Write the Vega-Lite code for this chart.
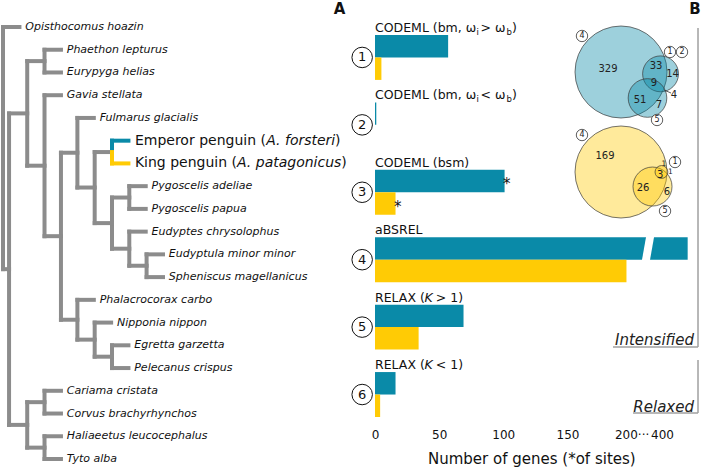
{
  "$schema": "https://vega.github.io/schema/vega-lite/v6.json",
  "width": 701,
  "height": 420,
  "autosize": "none",
  "padding": {"left": 0, "right": 0, "top": 0, "bottom": 47},
  "background": "white",
  "config": {"view": {"stroke": null}, "font": "DejaVu Sans", "text": {"font": "DejaVu Sans", "color": "#111"}},
  "datasets": {
    "tree": [
      {"x1":0,"x2":0,"y1":0,"y2":10.65,"c":"Other"},
      {"x1":0.35,"x2":0.35,"y1":3.8,"y2":17.5,"c":"Other"},
      {"x1":1.4,"x2":1.4,"y1":1.5,"y2":6.1,"c":"Other"},
      {"x1":1.4,"x2":1.4,"y1":16.5,"y2":18.5,"c":"Other"},
      {"x1":2.4,"x2":2.4,"y1":1,"y2":2,"c":"Other"},
      {"x1":2.4,"x2":2.4,"y1":3,"y2":9.2,"c":"Other"},
      {"x1":2.4,"x2":2.4,"y1":16,"y2":17,"c":"Other"},
      {"x1":2.4,"x2":2.4,"y1":18,"y2":19,"c":"Other"},
      {"x1":3.35,"x2":3.35,"y1":5.53,"y2":12.875,"c":"Other"},
      {"x1":4.3,"x2":4.3,"y1":4,"y2":7.06,"c":"Other"},
      {"x1":4.3,"x2":4.3,"y1":12,"y2":13.75,"c":"Other"},
      {"x1":5.3,"x2":5.3,"y1":5.5,"y2":8.625,"c":"Other"},
      {"x1":5.3,"x2":5.3,"y1":13,"y2":14.5,"c":"Other"},
      {"x1":6.3,"x2":6.3,"y1":7.5,"y2":9.75,"c":"Other"},
      {"x1":6.3,"x2":6.3,"y1":14,"y2":15,"c":"Other"},
      {"x1":7.3,"x2":7.3,"y1":7,"y2":8,"c":"Other"},
      {"x1":7.3,"x2":7.3,"y1":9,"y2":10.5,"c":"Other"},
      {"x1":8.3,"x2":8.3,"y1":10,"y2":11,"c":"Other"},
      {"x1":0,"x2":0.95,"y1":0,"y2":0,"c":"Other"},
      {"x1":0,"x2":0.35,"y1":10.65,"y2":10.65,"c":"Other"},
      {"x1":0.35,"x2":1.4,"y1":3.8,"y2":3.8,"c":"Other"},
      {"x1":0.35,"x2":1.4,"y1":17.5,"y2":17.5,"c":"Other"},
      {"x1":1.4,"x2":2.4,"y1":1.5,"y2":1.5,"c":"Other"},
      {"x1":1.4,"x2":2.4,"y1":6.1,"y2":6.1,"c":"Other"},
      {"x1":2.4,"x2":3.35,"y1":1,"y2":1,"c":"Other"},
      {"x1":2.4,"x2":3.35,"y1":2,"y2":2,"c":"Other"},
      {"x1":2.4,"x2":3.35,"y1":3,"y2":3,"c":"Other"},
      {"x1":2.4,"x2":3.35,"y1":9.2,"y2":9.2,"c":"Other"},
      {"x1":3.35,"x2":4.3,"y1":5.53,"y2":5.53,"c":"Other"},
      {"x1":3.35,"x2":4.3,"y1":12.875,"y2":12.875,"c":"Other"},
      {"x1":4.3,"x2":5.25,"y1":4,"y2":4,"c":"Other"},
      {"x1":4.3,"x2":5.3,"y1":7.06,"y2":7.06,"c":"Other"},
      {"x1":5.3,"x2":6.3,"y1":5.5,"y2":5.5,"c":"Other"},
      {"x1":5.3,"x2":6.3,"y1":8.625,"y2":8.625,"c":"Other"},
      {"x1":6.3,"x2":7.3,"y1":7.5,"y2":7.5,"c":"Other"},
      {"x1":6.3,"x2":7.3,"y1":9.75,"y2":9.75,"c":"Other"},
      {"x1":7.3,"x2":8.25,"y1":7,"y2":7,"c":"Other"},
      {"x1":7.3,"x2":8.25,"y1":8,"y2":8,"c":"Other"},
      {"x1":7.3,"x2":8.25,"y1":9,"y2":9,"c":"Other"},
      {"x1":7.3,"x2":8.3,"y1":10.5,"y2":10.5,"c":"Other"},
      {"x1":8.3,"x2":9.25,"y1":10,"y2":10,"c":"Other"},
      {"x1":8.3,"x2":9.25,"y1":11,"y2":11,"c":"Other"},
      {"x1":4.3,"x2":5.25,"y1":12,"y2":12,"c":"Other"},
      {"x1":4.3,"x2":5.3,"y1":13.75,"y2":13.75,"c":"Other"},
      {"x1":5.3,"x2":6.25,"y1":13,"y2":13,"c":"Other"},
      {"x1":5.3,"x2":6.3,"y1":14.5,"y2":14.5,"c":"Other"},
      {"x1":6.3,"x2":7.25,"y1":14,"y2":14,"c":"Other"},
      {"x1":6.3,"x2":7.25,"y1":15,"y2":15,"c":"Other"},
      {"x1":1.4,"x2":2.4,"y1":16.5,"y2":16.5,"c":"Other"},
      {"x1":1.4,"x2":2.4,"y1":18.5,"y2":18.5,"c":"Other"},
      {"x1":2.4,"x2":3.35,"y1":16,"y2":16,"c":"Other"},
      {"x1":2.4,"x2":3.35,"y1":17,"y2":17,"c":"Other"},
      {"x1":2.4,"x2":3.35,"y1":18,"y2":18,"c":"Other"},
      {"x1":2.4,"x2":3.35,"y1":19,"y2":19,"c":"Other"},
      {"x1":6.3,"x2":6.3,"y1":5,"y2":5.5,"c":"Emperor"},
      {"x1":6.3,"x2":7.25,"y1":5,"y2":5,"c":"Emperor"},
      {"x1":6.3,"x2":6.3,"y1":5.5,"y2":6,"c":"King"},
      {"x1":6.3,"x2":7.25,"y1":6,"y2":6,"c":"King"}
    ],
    "leaves": [
      {"name":"Opisthocomus hoazin","y":0,"d":0.95},
      {"name":"Phaethon lepturus","y":1,"d":3.35},
      {"name":"Eurypyga helias","y":2,"d":3.35},
      {"name":"Gavia stellata","y":3,"d":3.35},
      {"name":"Fulmarus glacialis","y":4,"d":5.25},
      {"name":"Pygoscelis adeliae","y":7,"d":8.25},
      {"name":"Pygoscelis papua","y":8,"d":8.25},
      {"name":"Eudyptes chrysolophus","y":9,"d":8.25},
      {"name":"Eudyptula minor minor","y":10,"d":9.25},
      {"name":"Spheniscus magellanicus","y":11,"d":9.25},
      {"name":"Phalacrocorax carbo","y":12,"d":5.25},
      {"name":"Nipponia nippon","y":13,"d":6.25},
      {"name":"Egretta garzetta","y":14,"d":7.25},
      {"name":"Pelecanus crispus","y":15,"d":7.25},
      {"name":"Cariama cristata","y":16,"d":3.35},
      {"name":"Corvus brachyrhynchos","y":17,"d":3.35},
      {"name":"Haliaeetus leucocephalus","y":18,"d":3.35},
      {"name":"Tyto alba","y":19,"d":3.35}
    ],
    "penguins": [
      {"sp":"Emperor","y":5,"d":7.25,"a":"Emperor penguin (","b":"A. forsteri","c":")"},
      {"sp":"King","y":6,"d":7.25,"a":"King penguin (","b":"A. patagonicus","c":")"}
    ],
    "bars": [
      {"test":1,"row":"1e","sp":"Emperor","n":57},
      {"test":1,"row":"1k","sp":"King","n":5},
      {"test":2,"row":"2e","sp":"Emperor","n":1},
      {"test":2,"row":"2k","sp":"King","n":0},
      {"test":3,"row":"3e","sp":"Emperor","n":101,"sites":true},
      {"test":3,"row":"3k","sp":"King","n":16,"sites":true},
      {"test":4,"row":"4e","sp":"Emperor","n":420},
      {"test":4,"row":"4k","sp":"King","n":196},
      {"test":5,"row":"5e","sp":"Emperor","n":69},
      {"test":5,"row":"5k","sp":"King","n":34},
      {"test":6,"row":"6e","sp":"Emperor","n":16},
      {"test":6,"row":"6k","sp":"King","n":4}
    ],
    "breaks": [{"row":"4e","at":308}],
    "titles": [
      {"row":"1t","a":"CODEML (bm, ω","b":"i","c":" > ω","d":"b","e":")"},
      {"row":"2t","a":"CODEML (bm, ω","b":"i","c":" < ω","d":"b","e":")"},
      {"row":"3t","a":"CODEML (bsm)"},
      {"row":"4t","a":"aBSREL"},
      {"row":"5t","a":"RELAX (","k":"K","f":" > 1)"},
      {"row":"6t","a":"RELAX (","k":"K","f":" < 1)"}
    ],
    "tests": [
      {"test":"1","row":"1e"},{"test":"2","row":"2e"},{"test":"3","row":"3e"},
      {"test":"4","row":"4e"},{"test":"5","row":"5e"},{"test":"6","row":"6e"}
    ],
    "venn": [
      {"set":"4","sp":"Emperor","cx":0,"cy":0,"r":1},
      {"set":"1,2","sp":"Emperor","cx":0.86,"cy":0.04,"r":0.39},
      {"set":"5","sp":"Emperor","cx":0.576,"cy":0.565,"r":0.42},
      {"set":"4","sp":"King","cx":0,"cy":2.174,"r":1},
      {"set":"5","sp":"King","cx":0.685,"cy":2.49,"r":0.424},
      {"set":"1","sp":"King","cx":0.88,"cy":2.174,"r":0.14}
    ],
    "vennLabels": [
      {"t":"329","x":-0.283,"y":-0.065,"tiny":false},
      {"t":"33","x":0.761,"y":-0.13,"tiny":false},
      {"t":"14","x":1.12,"y":0.043,"tiny":false},
      {"t":"9","x":0.717,"y":0.239,"tiny":false},
      {"t":"4","x":1.152,"y":0.5,"tiny":false},
      {"t":"51","x":0.413,"y":0.609,"tiny":false},
      {"t":"7","x":0.826,"y":0.717,"tiny":false},
      {"t":"169","x":-0.348,"y":1.826,"tiny":false},
      {"t":"26","x":0.478,"y":2.522,"tiny":false},
      {"t":"6","x":1.0,"y":2.609,"tiny":false},
      {"t":"3","x":0.85,"y":2.24,"tiny":false},
      {"t":"1","x":0.935,"y":2.0,"tiny":true},
      {"t":"1","x":1.075,"y":2.174,"tiny":true}
    ],
    "vennSets": [
      {"t":"4","x":-0.848,"y":-0.783},
      {"t":"1","x":1.065,"y":-0.435},
      {"t":"2","x":1.326,"y":-0.435},
      {"t":"5","x":0.783,"y":1.043},
      {"t":"4","x":-0.848,"y":1.37},
      {"t":"1","x":1.174,"y":1.957},
      {"t":"5","x":0.957,"y":3.022}
    ],
    "leader": [{"x1":0.935,"y1":0.391,"x2":1.087,"y2":0.457}],
    "brackets": [
      {"x1":1.674,"x2":1.674,"y1":-0.957,"y2":5.978},
      {"x1":-0.174,"x2":1.674,"y1":5.978,"y2":5.978},
      {"x1":1.674,"x2":1.674,"y1":6.261,"y2":7.413},
      {"x1":0.261,"x2":1.674,"y1":7.413,"y2":7.413}
    ],
    "bracketText": [
      {"t":"Intensified","x":1.587,"y":5.826},
      {"t":"Relaxed","x":1.587,"y":7.283}
    ],
    "panels": [
      {"t":"A","x":-6.12,"y":-1.38},
      {"t":"B","x":1.61,"y":-1.38}
    ]
  },
  "resolve": {"scale": {"x": "independent", "y": "independent", "color": "independent", "size": "independent"}},
  "layer": [
    {
      "data": {"name": "tree"},
      "mark": {"type": "rule", "strokeWidth": 4, "strokeCap": "square"},
      "encoding": {
        "x": {"field": "x1", "type": "quantitative", "scale": {"type": "linear", "domain": [0, 10], "range": [3, 176], "nice": false, "zero": false}, "axis": null},
        "x2": {"field": "x2"},
        "y": {"field": "y1", "type": "quantitative", "scale": {"type": "linear", "domain": [0, 19], "range": [27, 459], "nice": false, "zero": false}, "axis": null},
        "y2": {"field": "y2"},
        "color": {"field": "c", "type": "nominal", "scale": {"domain": ["Emperor", "King", "Other"], "range": ["#0a8aa8", "#ffcb05", "#8c8c8c"]}, "legend": null}
      }
    },
    {
      "data": {"name": "leaves"},
      "mark": {"type": "text", "align": "left", "baseline": "middle", "dx": 5.8, "fontSize": 11, "fontStyle": "italic", "color": "#111"},
      "encoding": {
        "x": {"field": "d", "type": "quantitative", "scale": {"type": "linear", "domain": [0, 10], "range": [3, 176], "nice": false, "zero": false}, "axis": null},
        "y": {"field": "y", "type": "quantitative", "scale": {"type": "linear", "domain": [0, 19], "range": [27, 459], "nice": false, "zero": false}, "axis": null},
        "text": {"field": "name"}
      }
    },
    {
      "data": {"name": "penguins"},
      "mark": {"type": "text", "align": "left", "baseline": "middle", "dx": 6.5, "fontSize": 14, "color": "#111"},
      "encoding": {
        "x": {"field": "d", "type": "quantitative", "scale": {"type": "linear", "domain": [0, 10], "range": [3, 176], "nice": false, "zero": false}, "axis": null},
        "y": {"field": "y", "type": "quantitative", "scale": {"type": "linear", "domain": [0, 19], "range": [27, 459], "nice": false, "zero": false}, "axis": null},
        "text": {"field": "a"}
      }
    },
    {
      "data": {"name": "penguins"},
      "transform": [{"filter": "datum.sp == 'Emperor'"}],
      "mark": {"type": "text", "align": "left", "baseline": "middle", "dx": 137.8, "fontSize": 14, "fontStyle": "italic", "color": "#111"},
      "encoding": {
        "x": {"field": "d", "type": "quantitative", "scale": {"type": "linear", "domain": [0, 10], "range": [3, 176], "nice": false, "zero": false}, "axis": null},
        "y": {"field": "y", "type": "quantitative", "scale": {"type": "linear", "domain": [0, 19], "range": [27, 459], "nice": false, "zero": false}, "axis": null},
        "text": {"field": "b"}
      }
    },
    {
      "data": {"name": "penguins"},
      "transform": [{"filter": "datum.sp == 'Emperor'"}],
      "mark": {"type": "text", "align": "left", "baseline": "middle", "dx": 206.6, "fontSize": 14, "color": "#111"},
      "encoding": {
        "x": {"field": "d", "type": "quantitative", "scale": {"type": "linear", "domain": [0, 10], "range": [3, 176], "nice": false, "zero": false}, "axis": null},
        "y": {"field": "y", "type": "quantitative", "scale": {"type": "linear", "domain": [0, 19], "range": [27, 459], "nice": false, "zero": false}, "axis": null},
        "text": {"field": "c"}
      }
    },
    {
      "data": {"name": "penguins"},
      "transform": [{"filter": "datum.sp == 'King'"}],
      "mark": {"type": "text", "align": "left", "baseline": "middle", "dx": 108.6, "fontSize": 14, "fontStyle": "italic", "color": "#111"},
      "encoding": {
        "x": {"field": "d", "type": "quantitative", "scale": {"type": "linear", "domain": [0, 10], "range": [3, 176], "nice": false, "zero": false}, "axis": null},
        "y": {"field": "y", "type": "quantitative", "scale": {"type": "linear", "domain": [0, 19], "range": [27, 459], "nice": false, "zero": false}, "axis": null},
        "text": {"field": "b"}
      }
    },
    {
      "data": {"name": "penguins"},
      "transform": [{"filter": "datum.sp == 'King'"}],
      "mark": {"type": "text", "align": "left", "baseline": "middle", "dx": 212.7, "fontSize": 14, "color": "#111"},
      "encoding": {
        "x": {"field": "d", "type": "quantitative", "scale": {"type": "linear", "domain": [0, 10], "range": [3, 176], "nice": false, "zero": false}, "axis": null},
        "y": {"field": "y", "type": "quantitative", "scale": {"type": "linear", "domain": [0, 19], "range": [27, 459], "nice": false, "zero": false}, "axis": null},
        "text": {"field": "c"}
      }
    },
    {
      "data": {"name": "bars"},
      "mark": {"type": "bar"},
      "encoding": {
        "y": {"field": "row", "type": "nominal", "scale": {"type": "band", "domain": ["1t","1e","1k","2t","2e","2k","3t","3e","3k","4t","4e","4k","5t","5e","5k","6t","6e","6k"], "range": [12.5, 417], "paddingInner": 0, "paddingOuter": 0}, "axis": null},
        "x": {"field": "n", "type": "quantitative", "stack": null, "scale": {"type": "linear", "domain": [-10, 0, 200, 400, 430], "range": [362.17, 375, 631.6, 662, 700.5], "nice": false, "zero": false},
              "axis": {"values": [0, 50, 100, 150, 200, 400], "domain": false, "ticks": false, "tickSize": 0, "grid": false, "labelFontSize": 12, "labelPadding": 9, "labelColor": "#111", "labelFont": "DejaVu Sans", "labelFlush": false, "labelOverlap": false, "labelExpr": "datum.value == 200 ? '200···' : datum.label", "title": "Number of genes (*of sites)", "titleFont": "DejaVu Sans", "titleFontSize": 15, "titleFontWeight": "normal", "titleColor": "#111", "titlePadding": 11}},
        "x2": {"datum": 0},
        "color": {"field": "sp", "type": "nominal", "scale": {"domain": ["Emperor", "King", "Other"], "range": ["#0a8aa8", "#ffcb05", "#8c8c8c"]}, "legend": null}
      }
    },
    {
      "data": {"name": "breaks"},
      "mark": {"type": "point", "shape": "M-0.18,-1.05L0.55,-1.05L0.18,1.05L-0.55,1.05Z", "filled": true, "color": "white", "opacity": 1, "strokeWidth": 0, "size": 484},
      "encoding": {
        "y": {"field": "row", "type": "nominal", "scale": {"type": "band", "domain": ["1t","1e","1k","2t","2e","2k","3t","3e","3k","4t","4e","4k","5t","5e","5k","6t","6e","6k"], "range": [12.5, 417], "paddingInner": 0, "paddingOuter": 0}, "axis": null},
        "x": {"field": "at", "type": "quantitative", "scale": {"type": "linear", "domain": [-10, 0, 200, 400, 430], "range": [362.17, 375, 631.6, 662, 700.5], "nice": false, "zero": false}, "axis": null}
      }
    },
    {
      "data": {"name": "bars"},
      "transform": [{"filter": "datum.sites"}],
      "mark": {"type": "text", "text": "*", "align": "left", "baseline": "middle", "dx": -1.5, "dy": 3, "fontSize": 15, "color": "#111"},
      "encoding": {
        "y": {"field": "row", "type": "nominal", "scale": {"type": "band", "domain": ["1t","1e","1k","2t","2e","2k","3t","3e","3k","4t","4e","4k","5t","5e","5k","6t","6e","6k"], "range": [12.5, 417], "paddingInner": 0, "paddingOuter": 0}, "axis": null},
        "x": {"field": "n", "type": "quantitative", "scale": {"type": "linear", "domain": [-10, 0, 200, 400, 430], "range": [362.17, 375, 631.6, 662, 700.5], "nice": false, "zero": false}, "axis": null}
      }
    },
    {
      "data": {"name": "titles"},
      "mark": {"type": "text", "align": "left", "baseline": "alphabetic", "dy": 8.3, "fontSize": 12.5, "color": "#111"},
      "encoding": {
        "y": {"field": "row", "type": "nominal", "scale": {"type": "band", "domain": ["1t","1e","1k","2t","2e","2k","3t","3e","3k","4t","4e","4k","5t","5e","5k","6t","6e","6k"], "range": [12.5, 417], "paddingInner": 0, "paddingOuter": 0}, "axis": null},
        "x": {"datum": 0, "type": "quantitative", "scale": {"type": "linear", "domain": [-10, 0, 200, 400, 430], "range": [362.17, 375, 631.6, 662, 700.5], "nice": false, "zero": false}, "axis": null},
        "text": {"field": "a"}
      }
    },
    {
      "data": {"name": "titles"},
      "transform": [{"filter": "isValid(datum.b)"}],
      "mark": {"type": "text", "align": "left", "baseline": "alphabetic", "dx": 101.5, "dy": 11.3, "fontSize": 8.5, "color": "#111"},
      "encoding": {
        "y": {"field": "row", "type": "nominal", "scale": {"type": "band", "domain": ["1t","1e","1k","2t","2e","2k","3t","3e","3k","4t","4e","4k","5t","5e","5k","6t","6e","6k"], "range": [12.5, 417], "paddingInner": 0, "paddingOuter": 0}, "axis": null},
        "x": {"datum": 0, "type": "quantitative", "scale": {"type": "linear", "domain": [-10, 0, 200, 400, 430], "range": [362.17, 375, 631.6, 662, 700.5], "nice": false, "zero": false}, "axis": null},
        "text": {"field": "b"}
      }
    },
    {
      "data": {"name": "titles"},
      "transform": [{"filter": "isValid(datum.c)"}],
      "mark": {"type": "text", "align": "left", "baseline": "alphabetic", "dx": 105.5, "dy": 8.3, "fontSize": 12.5, "color": "#111"},
      "encoding": {
        "y": {"field": "row", "type": "nominal", "scale": {"type": "band", "domain": ["1t","1e","1k","2t","2e","2k","3t","3e","3k","4t","4e","4k","5t","5e","5k","6t","6e","6k"], "range": [12.5, 417], "paddingInner": 0, "paddingOuter": 0}, "axis": null},
        "x": {"datum": 0, "type": "quantitative", "scale": {"type": "linear", "domain": [-10, 0, 200, 400, 430], "range": [362.17, 375, 631.6, 662, 700.5], "nice": false, "zero": false}, "axis": null},
        "text": {"field": "c"}
      }
    },
    {
      "data": {"name": "titles"},
      "transform": [{"filter": "isValid(datum.d)"}],
      "mark": {"type": "text", "align": "left", "baseline": "alphabetic", "dx": 131.5, "dy": 11.3, "fontSize": 8.5, "color": "#111"},
      "encoding": {
        "y": {"field": "row", "type": "nominal", "scale": {"type": "band", "domain": ["1t","1e","1k","2t","2e","2k","3t","3e","3k","4t","4e","4k","5t","5e","5k","6t","6e","6k"], "range": [12.5, 417], "paddingInner": 0, "paddingOuter": 0}, "axis": null},
        "x": {"datum": 0, "type": "quantitative", "scale": {"type": "linear", "domain": [-10, 0, 200, 400, 430], "range": [362.17, 375, 631.6, 662, 700.5], "nice": false, "zero": false}, "axis": null},
        "text": {"field": "d"}
      }
    },
    {
      "data": {"name": "titles"},
      "transform": [{"filter": "isValid(datum.e)"}],
      "mark": {"type": "text", "align": "left", "baseline": "alphabetic", "dx": 137, "dy": 8.3, "fontSize": 12.5, "color": "#111"},
      "encoding": {
        "y": {"field": "row", "type": "nominal", "scale": {"type": "band", "domain": ["1t","1e","1k","2t","2e","2k","3t","3e","3k","4t","4e","4k","5t","5e","5k","6t","6e","6k"], "range": [12.5, 417], "paddingInner": 0, "paddingOuter": 0}, "axis": null},
        "x": {"datum": 0, "type": "quantitative", "scale": {"type": "linear", "domain": [-10, 0, 200, 400, 430], "range": [362.17, 375, 631.6, 662, 700.5], "nice": false, "zero": false}, "axis": null},
        "text": {"field": "e"}
      }
    },
    {
      "data": {"name": "titles"},
      "transform": [{"filter": "isValid(datum.k)"}],
      "mark": {"type": "text", "align": "left", "baseline": "alphabetic", "dx": 49.5, "dy": 8.3, "fontSize": 12.5, "fontStyle": "italic", "color": "#111"},
      "encoding": {
        "y": {"field": "row", "type": "nominal", "scale": {"type": "band", "domain": ["1t","1e","1k","2t","2e","2k","3t","3e","3k","4t","4e","4k","5t","5e","5k","6t","6e","6k"], "range": [12.5, 417], "paddingInner": 0, "paddingOuter": 0}, "axis": null},
        "x": {"datum": 0, "type": "quantitative", "scale": {"type": "linear", "domain": [-10, 0, 200, 400, 430], "range": [362.17, 375, 631.6, 662, 700.5], "nice": false, "zero": false}, "axis": null},
        "text": {"field": "k"}
      }
    },
    {
      "data": {"name": "titles"},
      "transform": [{"filter": "isValid(datum.f)"}],
      "mark": {"type": "text", "align": "left", "baseline": "alphabetic", "dx": 60.8, "dy": 8.3, "fontSize": 12.5, "color": "#111"},
      "encoding": {
        "y": {"field": "row", "type": "nominal", "scale": {"type": "band", "domain": ["1t","1e","1k","2t","2e","2k","3t","3e","3k","4t","4e","4k","5t","5e","5k","6t","6e","6k"], "range": [12.5, 417], "paddingInner": 0, "paddingOuter": 0}, "axis": null},
        "x": {"datum": 0, "type": "quantitative", "scale": {"type": "linear", "domain": [-10, 0, 200, 400, 430], "range": [362.17, 375, 631.6, 662, 700.5], "nice": false, "zero": false}, "axis": null},
        "text": {"field": "f"}
      }
    },
    {
      "data": {"name": "tests"},
      "mark": {"type": "point", "shape": "circle", "filled": true, "fill": "white", "stroke": "#111", "strokeWidth": 1, "opacity": 1, "size": 420},
      "encoding": {
        "y": {"field": "row", "type": "nominal", "bandPosition": 1, "scale": {"type": "band", "domain": ["1t","1e","1k","2t","2e","2k","3t","3e","3k","4t","4e","4k","5t","5e","5k","6t","6e","6k"], "range": [12.5, 417], "paddingInner": 0, "paddingOuter": 0}, "axis": null},
        "x": {"datum": -10, "type": "quantitative", "scale": {"type": "linear", "domain": [-10, 0, 200, 400, 430], "range": [362.17, 375, 631.6, 662, 700.5], "nice": false, "zero": false}, "axis": null}
      }
    },
    {
      "data": {"name": "tests"},
      "mark": {"type": "text", "align": "center", "baseline": "middle", "fontSize": 13, "color": "#111"},
      "encoding": {
        "y": {"field": "row", "type": "nominal", "bandPosition": 1, "scale": {"type": "band", "domain": ["1t","1e","1k","2t","2e","2k","3t","3e","3k","4t","4e","4k","5t","5e","5k","6t","6e","6k"], "range": [12.5, 417], "paddingInner": 0, "paddingOuter": 0}, "axis": null},
        "x": {"datum": -10, "type": "quantitative", "scale": {"type": "linear", "domain": [-10, 0, 200, 400, 430], "range": [362.17, 375, 631.6, 662, 700.5], "nice": false, "zero": false}, "axis": null},
        "text": {"field": "test"}
      }
    },
    {
      "data": {"name": "venn"},
      "mark": {"type": "point", "shape": "circle", "filled": true, "opacity": 1, "fillOpacity": 0.4, "stroke": "#3a3a3a", "strokeWidth": 0.7},
      "encoding": {
        "x": {"field": "cx", "type": "quantitative", "scale": {"type": "linear", "domain": [-1, 1], "range": [575, 667], "nice": false, "zero": false}, "axis": null},
        "y": {"field": "cy", "type": "quantitative", "scale": {"type": "linear", "domain": [-1, 1], "range": [26, 118], "nice": false, "zero": false}, "axis": null},
        "size": {"field": "r", "type": "quantitative", "scale": {"type": "pow", "exponent": 2, "domain": [0, 1], "range": [0, 8464], "zero": false, "nice": false}, "legend": null},
        "color": {"field": "sp", "type": "nominal", "scale": {"domain": ["Emperor", "King", "Other"], "range": ["#0a8aa8", "#ffcb05", "#8c8c8c"]}, "legend": null}
      }
    },
    {
      "data": {"name": "vennLabels"},
      "transform": [{"filter": "!datum.tiny"}],
      "mark": {"type": "text", "align": "center", "baseline": "middle", "fontSize": 10, "color": "#222"},
      "encoding": {
        "x": {"field": "x", "type": "quantitative", "scale": {"type": "linear", "domain": [-1, 1], "range": [575, 667], "nice": false, "zero": false}, "axis": null},
        "y": {"field": "y", "type": "quantitative", "scale": {"type": "linear", "domain": [-1, 1], "range": [26, 118], "nice": false, "zero": false}, "axis": null},
        "text": {"field": "t"}
      }
    },
    {
      "data": {"name": "vennLabels"},
      "transform": [{"filter": "datum.tiny"}],
      "mark": {"type": "text", "align": "center", "baseline": "middle", "fontSize": 7.5, "color": "#222"},
      "encoding": {
        "x": {"field": "x", "type": "quantitative", "scale": {"type": "linear", "domain": [-1, 1], "range": [575, 667], "nice": false, "zero": false}, "axis": null},
        "y": {"field": "y", "type": "quantitative", "scale": {"type": "linear", "domain": [-1, 1], "range": [26, 118], "nice": false, "zero": false}, "axis": null},
        "text": {"field": "t"}
      }
    },
    {
      "data": {"name": "leader"},
      "mark": {"type": "rule", "stroke": "#333", "strokeWidth": 0.8},
      "encoding": {
        "x": {"field": "x1", "type": "quantitative", "scale": {"type": "linear", "domain": [-1, 1], "range": [575, 667], "nice": false, "zero": false}, "axis": null},
        "x2": {"field": "x2"},
        "y": {"field": "y1", "type": "quantitative", "scale": {"type": "linear", "domain": [-1, 1], "range": [26, 118], "nice": false, "zero": false}, "axis": null},
        "y2": {"field": "y2"}
      }
    },
    {
      "data": {"name": "vennSets"},
      "mark": {"type": "point", "shape": "circle", "filled": true, "fill": "white", "stroke": "#333", "strokeWidth": 0.8, "opacity": 1, "size": 130},
      "encoding": {
        "x": {"field": "x", "type": "quantitative", "scale": {"type": "linear", "domain": [-1, 1], "range": [575, 667], "nice": false, "zero": false}, "axis": null},
        "y": {"field": "y", "type": "quantitative", "scale": {"type": "linear", "domain": [-1, 1], "range": [26, 118], "nice": false, "zero": false}, "axis": null}
      }
    },
    {
      "data": {"name": "vennSets"},
      "mark": {"type": "text", "align": "center", "baseline": "middle", "fontSize": 8, "color": "#222"},
      "encoding": {
        "x": {"field": "x", "type": "quantitative", "scale": {"type": "linear", "domain": [-1, 1], "range": [575, 667], "nice": false, "zero": false}, "axis": null},
        "y": {"field": "y", "type": "quantitative", "scale": {"type": "linear", "domain": [-1, 1], "range": [26, 118], "nice": false, "zero": false}, "axis": null},
        "text": {"field": "t"}
      }
    },
    {
      "data": {"name": "brackets"},
      "mark": {"type": "rule", "stroke": "#a0a0a0", "strokeWidth": 1.5},
      "encoding": {
        "x": {"field": "x1", "type": "quantitative", "scale": {"type": "linear", "domain": [-1, 1], "range": [575, 667], "nice": false, "zero": false}, "axis": null},
        "x2": {"field": "x2"},
        "y": {"field": "y1", "type": "quantitative", "scale": {"type": "linear", "domain": [-1, 1], "range": [26, 118], "nice": false, "zero": false}, "axis": null},
        "y2": {"field": "y2"}
      }
    },
    {
      "data": {"name": "bracketText"},
      "mark": {"type": "text", "align": "right", "baseline": "middle", "fontSize": 15, "fontStyle": "italic", "color": "#222"},
      "encoding": {
        "x": {"field": "x", "type": "quantitative", "scale": {"type": "linear", "domain": [-1, 1], "range": [575, 667], "nice": false, "zero": false}, "axis": null},
        "y": {"field": "y", "type": "quantitative", "scale": {"type": "linear", "domain": [-1, 1], "range": [26, 118], "nice": false, "zero": false}, "axis": null},
        "text": {"field": "t"}
      }
    },
    {
      "data": {"name": "panels"},
      "mark": {"type": "text", "align": "center", "baseline": "middle", "fontSize": 15, "fontWeight": "bold", "color": "#111"},
      "encoding": {
        "x": {"field": "x", "type": "quantitative", "scale": {"type": "linear", "domain": [-1, 1], "range": [575, 667], "nice": false, "zero": false}, "axis": null},
        "y": {"field": "y", "type": "quantitative", "scale": {"type": "linear", "domain": [-1, 1], "range": [26, 118], "nice": false, "zero": false}, "axis": null},
        "text": {"field": "t"}
      }
    }
  ]
}
